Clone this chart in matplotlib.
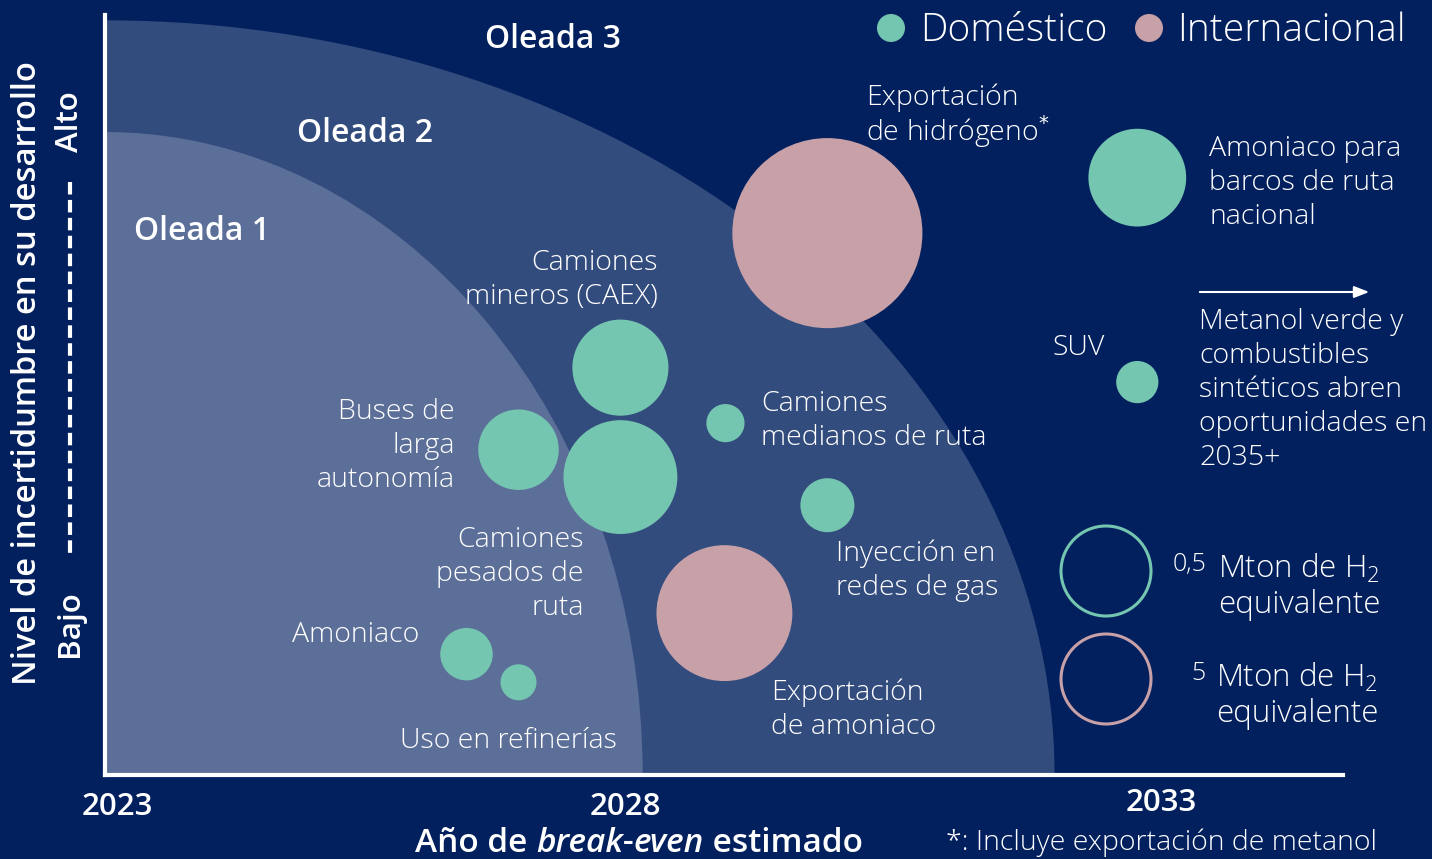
import matplotlib.pyplot as plt
from matplotlib.patches import Ellipse
from matplotlib.transforms import ScaledTranslation

plt.rcParams['font.family'] = ['Open Sans', 'DejaVu Sans']

NAVY = '#02205e'
OLA2 = '#334c7e'
OLA1 = '#5c6f99'
VERDE = '#75c6b0'
ROSA = '#c8a0a7'

# datos
usos = ['Exportación de hidrógeno', 'Amoniaco para barcos', 'Camiones mineros (CAEX)',
        'Camiones pesados de ruta', 'Buses de larga autonomía', 'Camiones medianos de ruta',
        'SUV', 'Inyección en redes de gas', 'Exportación de amoniaco', 'Amoniaco',
        'Uso en refinerías']
anio = [2029.85, 2032.83, 2027.86, 2027.86, 2026.88, 2028.87, 2032.83, 2029.85, 2028.86, 2026.38, 2026.88]
incertidumbre = [7.13, 7.86, 5.36, 3.92, 4.28, 4.63, 5.17, 3.55, 2.13, 1.59, 1.22]
mton = [22.3, 0.59, 0.57, 0.80, 0.40, 0.09, 0.11, 0.18, 11.4, 0.17, 0.08]
mercado = ['Internacional', 'Doméstico', 'Doméstico', 'Doméstico', 'Doméstico', 'Doméstico',
           'Doméstico', 'Doméstico', 'Internacional', 'Doméstico', 'Doméstico']
ref_mton = {'Doméstico': 0.5, 'Internacional': 5}
colores = {'Doméstico': VERDE, 'Internacional': ROSA}

# oleadas: semiejes (años, incertidumbre)
oleadas = {'Oleada 2': (9.13, 9.93), 'Oleada 1': (5.17, 8.46)}
anios_eje = [2023, 2028, 2033]

X0 = 2022.904
W, H = 1432, 859


def tam(valor, grupo):
    # area proporcional a Mton; la referencia mide 90 px de diametro
    return (0.72 * 90) ** 2 * valor / ref_mton[grupo]


fig = plt.figure(figsize=(W / 100, H / 100), dpi=100, facecolor=NAVY)
ax = fig.add_axes([105 / W, (H - 775) / H, 1238 / W, 760 / H])
ax.set_facecolor('none')
ax.set_xlim(X0, X0 + 1238 / 104)
ax.set_ylim(0, 10)

for (nombre, (a, b)), c in zip(oleadas.items(), [OLA2, OLA1]):
    ax.add_patch(Ellipse((X0, 0), 2 * a, 2 * b, facecolor=c, edgecolor='none', zorder=1))

for x, y, v, g in zip(anio, incertidumbre, mton, mercado):
    ax.scatter(x, y, s=tam(v, g), color=colores[g], edgecolors='none', zorder=3)

for lado in ['top', 'right']:
    ax.spines[lado].set_visible(False)
for lado in ['left', 'bottom']:
    ax.spines[lado].set_color('white')
    ax.spines[lado].set_linewidth(3)
    ax.spines[lado].set_zorder(5)
ax.set_yticks([])
ax.set_xticks(anios_eje)
ax.set_xticklabels([str(a) for a in anios_eje], color='white', fontsize=22.5, fontweight='semibold')
ax.tick_params(axis='x', length=0, pad=12)
# pequeños corrimientos de las etiquetas como en el original (px)
for lab, (dx, dy) in zip(ax.get_xticklabels(), [(2, 0), (-10, 0), (6, 4)]):
    lab.set_transform(lab.get_transform() + ScaledTranslation(dx / 100, dy / 100, fig.dpi_scale_trans))

# capa de anotaciones en pixeles
ov = fig.add_axes([0, 0, 1, 1], zorder=10)
ov.set_xlim(0, W)
ov.set_ylim(H, 0)
ov.axis('off')


def texto(x, y, lineas, ha='left', size=20.5, weight='light', paso=34):
    for i, l in enumerate(lineas):
        ov.text(x, y + i * paso, l, ha=ha, va='center', color='white', fontsize=size,
                fontweight=weight)


texto(553, 39, ['Oleada 3'], ha='center', size=23, weight='semibold')
texto(297, 134, ['Oleada 2'], size=23, weight='semibold')
texto(134, 231, ['Oleada 1'], size=23, weight='semibold')

texto(866, 98, ['Exportación', 'de hidrógeno$^{*}$'])
texto(1209, 149, ['Amoniaco para', 'barcos de ruta', 'nacional'])
texto(658, 263, ['Camiones', 'mineros (CAEX)'], ha='right')
texto(455, 412, ['Buses de', 'larga', 'autonomía'], ha='right')
texto(761, 404, ['Camiones', 'medianos de ruta'])
texto(1053, 348, ['SUV'])
texto(1199, 322, ['Metanol verde y', 'combustibles', 'sintéticos abren', 'oportunidades en', '2035+'])
texto(836, 554, ['Inyección en', 'redes de gas'])
texto(584, 540, ['Camiones', 'pesados de', 'ruta'], ha='right')
texto(419, 635, ['Amoniaco'], ha='right')
texto(771, 693, ['Exportación', 'de amoniaco'])
texto(617, 741, ['Uso en refinerías'], ha='right')

ov.annotate('', xy=(1372, 292), xytext=(1197, 292),
            arrowprops=dict(arrowstyle='-|>,head_length=0.9,head_width=0.35', color='white', lw=1.5))

# leyenda superior
ov.scatter([891, 1149], [28, 28], s=(0.72 * 28) ** 2, color=[VERDE, ROSA], edgecolors='none')
texto(920, 31, ['Doméstico'], size=28)
texto(1177, 31, ['Internacional'], size=28)

# leyenda de tamaños
for yy, g in [(571, 'Doméstico'), (679, 'Internacional')]:
    ov.scatter(1106, yy, s=tam(ref_mton[g], g), facecolors='none', edgecolors=colores[g], linewidths=2.2)
texto(1206, 564, ['0,5'], ha='right', size=18)
texto(1218, 569, ['Mton de H$_{\\mathregular{2}}$', 'equivalente'], size=22.5, paso=36)
texto(1206, 673, ['5'], ha='right', size=18)
texto(1216, 678, ['Mton de H$_{\\mathregular{2}}$', 'equivalente'], size=22.5, paso=36)

# eje y
ov.text(28, 373, 'Nivel de incertidumbre en su desarrollo', rotation=90, ha='center', va='center',
        color='white', fontsize=23.6, fontweight='semibold')
ov.text(70, 122, 'Alto', rotation=90, ha='center', va='center', color='white', fontsize=22.5, fontweight='semibold')
ov.text(70, 624, 'Bajo', rotation=90, ha='center', va='center', color='white', fontsize=22.5, fontweight='semibold')
ov.plot([70, 70], [182, 558], color='white', lw=3, ls=(0, (3, 1.3)))

# titulo eje x con partes en cursiva
partes = [('Año de ', 'normal'), ('break', 'italic'), ('-', 'normal'), ('even', 'italic'), (' estimado', 'normal')]
r = fig.canvas.get_renderer()
objs = [ov.text(0, 843, t, style=s, fontsize=24, fontweight='semibold', color='white', va='center') for t, s in partes]
anchos = [o.get_window_extent(r).width for o in objs]
x = 639 - sum(anchos) / 2
for o, w in zip(objs, anchos):
    o.set_x(x)
    x += w

ov.text(946, 843, '*: Incluye exportación de metanol', color='white', fontsize=20.5, fontweight='light', va='center')

fig.savefig('out.png', dpi=100, facecolor=NAVY)
